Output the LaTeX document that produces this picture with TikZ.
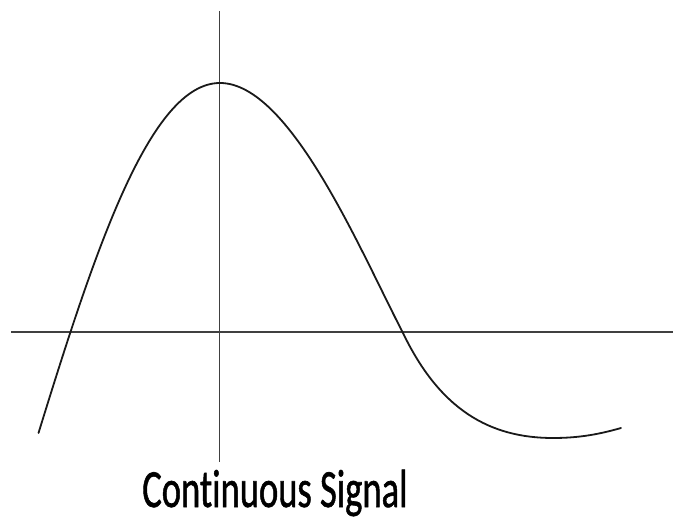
\documentclass[tikz,border=0pt]{standalone}
\usepackage{fontspec}
\usepackage{graphicx}
\setmainfont{Carlito}
\newfontfamily\capfont{Carlito}[FakeBold=1.2,Ligatures=NoCommon]
\begin{document}
\begin{tikzpicture}[x=1bp,y=-1bp,
  axisline/.style={line width=1.3bp,draw=black!75},
  signal/.style={line width=1.8bp,draw=black!90,line cap=round},
  caption/.style={font=\fontsize{54}{60}\selectfont\capfont,inner sep=0pt,anchor=base}]
\useasboundingbox (0,0) rectangle (673,519);
\coordinate (xl) at (11,332);
\coordinate (xr) at (673,332);
\coordinate (yt) at (219.5,11);
\coordinate (yb) at (219.5,462);
\coordinate (s0) at (38.5,433);
\coordinate (pk) at (220,83);
\coordinate (z2) at (403,333);
\coordinate (mn) at (553,438);
\coordinate (s1) at (621,428);
\draw[axisline] (xl) -- (xr);
\draw[axisline] (yt) -- (yb);
\draw[signal] (s0) .. controls (95,250) and (150,83) .. (pk)
  .. controls (290,83) and (360,250) .. (z2)
  .. controls (440,410) and (490,438) .. (mn)
  .. controls (580,438) and (600,434) .. (s1);
\node[caption] (label) at (275,507) {\scalebox{0.68}[1]{Continuous Signal}};
\end{tikzpicture}
\end{document}
